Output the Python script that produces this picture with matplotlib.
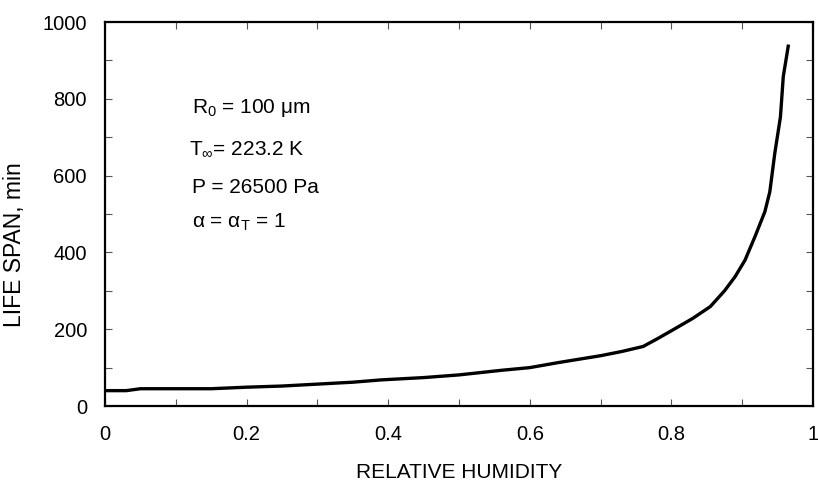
import matplotlib.pyplot as plt
from matplotlib.ticker import MultipleLocator

# -------------------------------
# Data
# -------------------------------
humidity = [0.0, 0.03, 0.05, 0.10, 0.15, 0.20, 0.25, 0.30, 0.35, 0.39,
            0.45, 0.50, 0.56, 0.60, 0.64, 0.70, 0.73, 0.76, 0.78, 0.80,
            0.83, 0.855, 0.875, 0.89, 0.904, 0.918, 0.932, 0.939, 0.946,
            0.954, 0.958, 0.965]
life_span = [40, 40, 45, 45, 45, 49, 52, 57, 62, 68,
             74, 81, 93, 100, 113, 131, 142, 155, 175, 196,
             228, 259, 300, 337, 380, 441, 506, 558, 658,
             753, 858, 937]

params = [r"R$_0$ = 100 μm",
          r"T$_{\infty}$= 223.2 K",
          "P = 26500 Pa",
          r"α = α$_\mathrm{T}$ = 1"]
param_x = [0.123, 0.119, 0.123, 0.123]
param_y = [763, 654, 555, 464]

plt.rcParams["font.family"] = ["Liberation Sans", "DejaVu Sans"]
plt.rcParams["mathtext.fontset"] = "custom"
plt.rcParams["mathtext.rm"] = "Liberation Sans"
plt.rcParams["mathtext.it"] = "Liberation Sans"

# -------------------------------
# Plot
# -------------------------------
fig = plt.figure(figsize=(8.18, 4.86), dpi=100)
ax = fig.add_axes([0.1284, 0.1646, 0.8655, 0.7901])

ax.plot(humidity, life_span, color="black", linewidth=2.4)

for txt, xv, yv in zip(params, param_x, param_y):
    ax.text(xv, yv, txt, fontsize=15, ha="left", va="baseline")

ax.set_xlim(0, 1)
ax.set_ylim(0, 1000)
ax.xaxis.set_major_locator(MultipleLocator(0.2))
ax.xaxis.set_minor_locator(MultipleLocator(0.1))
ax.yaxis.set_major_locator(MultipleLocator(200))
ax.yaxis.set_minor_locator(MultipleLocator(100))
ax.xaxis.set_major_formatter(lambda v, p: "%g" % round(v, 2))

ax.tick_params(which="both", direction="in", top=True, right=True,
               width=0.8, color="#555555")
ax.tick_params(which="major", length=5, labelsize=14.5)
ax.tick_params(which="minor", length=5)
ax.tick_params(axis="x", which="major", pad=14)
ax.tick_params(axis="y", which="major", pad=13)

for sp in ax.spines.values():
    sp.set_linewidth(1.6)

ax.set_xlabel("RELATIVE HUMIDITY", fontsize=15, labelpad=13)
ax.set_ylabel("LIFE SPAN, min", fontsize=16.5)
ax.yaxis.set_label_coords(-0.112, 0.42)

fig.savefig("out.png", dpi=100)
